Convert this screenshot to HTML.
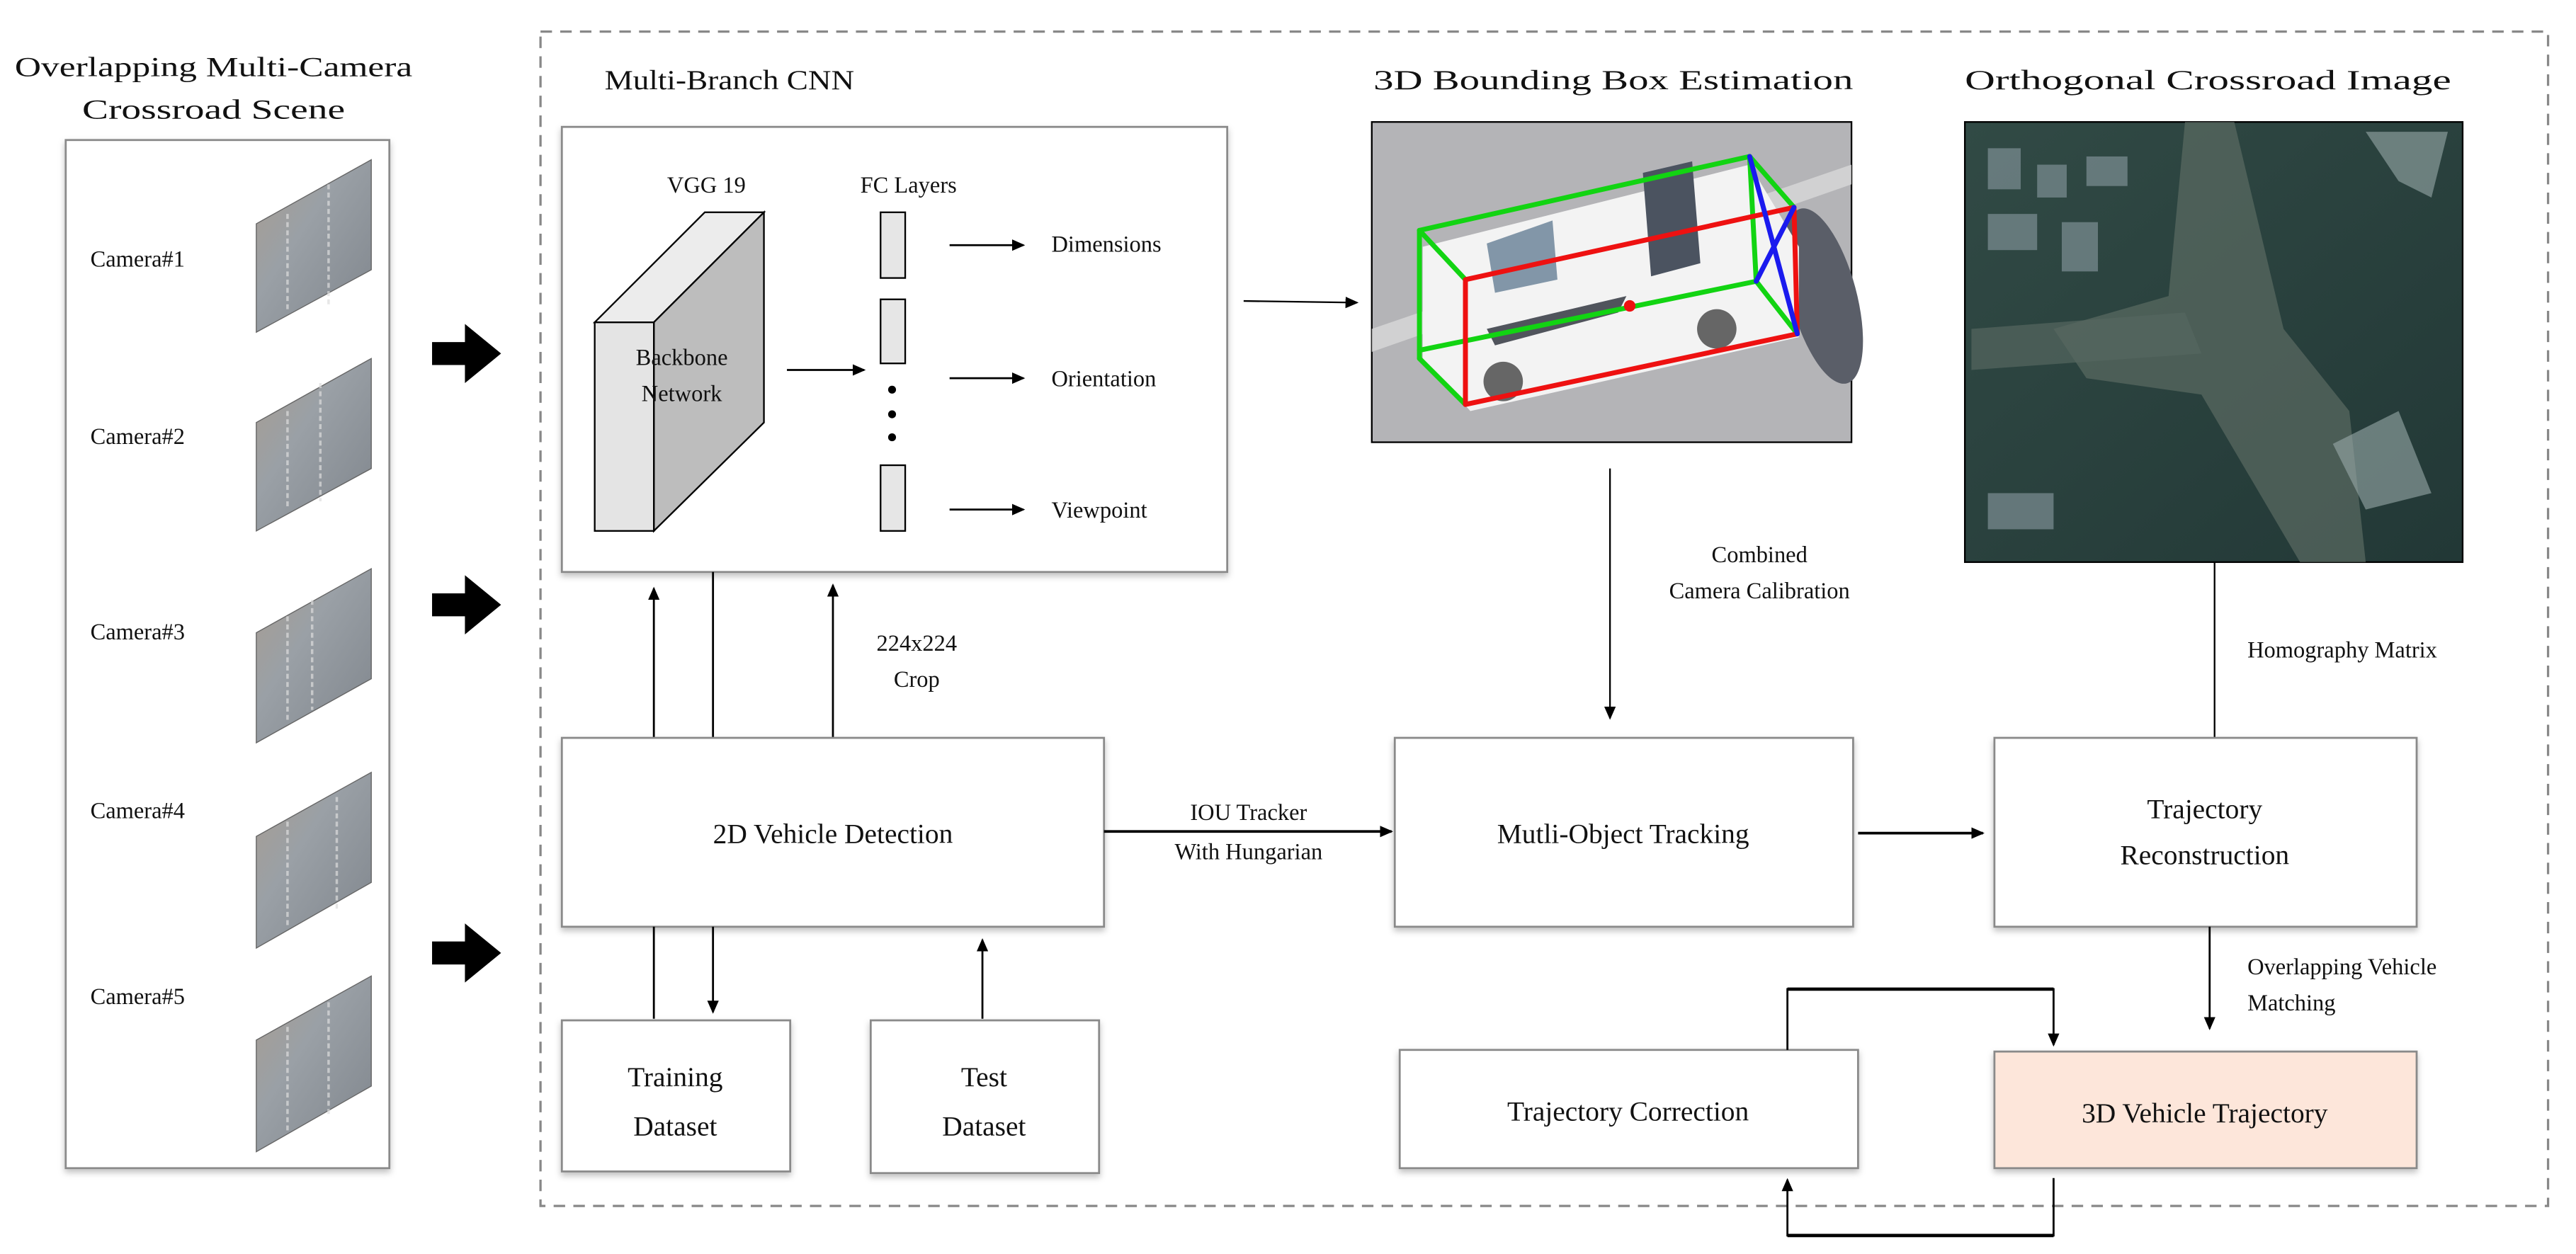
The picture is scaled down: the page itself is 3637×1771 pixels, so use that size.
<!DOCTYPE html>
<html><head><meta charset="utf-8"><style>
html,body{margin:0;padding:0;background:#fff;}
svg{display:block;}
text{font-family:"Liberation Serif",serif;fill:#111;}
</style></head><body>
<svg width="3637" height="1771" viewBox="0 0 1568 763" xmlns="http://www.w3.org/2000/svg">
<defs>
<marker id="ah" markerWidth="8" markerHeight="8" refX="7" refY="4" orient="auto" markerUnits="userSpaceOnUse"><path d="M0,0.5 L8,4 L0,7.5 Z" fill="#000"/></marker>
<filter id="sh" x="-5%" y="-5%" width="110%" height="115%"><feDropShadow dx="0" dy="2" stdDeviation="2" flood-color="#000" flood-opacity="0.25"/></filter>
<linearGradient id="cam" x1="0" y1="0" x2="1" y2="1"><stop offset="0" stop-color="#a99d90"/><stop offset="0.4" stop-color="#9aa0a6"/><stop offset="1" stop-color="#7f858c"/></linearGradient>
<linearGradient id="ort" x1="0" y1="0" x2="1" y2="1"><stop offset="0" stop-color="#314a45"/><stop offset="1" stop-color="#223836"/></linearGradient>
</defs>

<text x="130" y="46" font-size="17" text-anchor="middle" textLength="242" lengthAdjust="spacingAndGlyphs">Overlapping  Multi-Camera</text>
<text x="130" y="72" font-size="17" text-anchor="middle" textLength="160" lengthAdjust="spacingAndGlyphs">Crossroad  Scene</text>
<rect x="40" y="85" width="197" height="626" fill="#fff" stroke="#8a8a8a" stroke-width="1.2" filter="url(#sh)"/>
<g font-size="14">
<text x="55" y="162">Camera#1</text>
<text x="55" y="270">Camera#2</text>
<text x="55" y="389">Camera#3</text>
<text x="55" y="498">Camera#4</text>
<text x="55" y="611">Camera#5</text>
</g>
<g fill="url(#cam)" stroke="#666" stroke-width="0.6">
<polygon points="156,136 226,97 226,164 156,202"/>
<polygon points="156,257 226,218 226,285 156,323"/>
<polygon points="156,385 226,346 226,413 156,452"/>
<polygon points="156,509 226,470 226,537 156,577"/>
<polygon points="156,633 226,594 226,661 156,701"/>
</g>
<g stroke="#ddd" stroke-width="1.5" opacity="0.7" stroke-dasharray="3,2">
<line x1="200" y1="112" x2="200" y2="185"/><line x1="195" y1="233" x2="195" y2="305"/><line x1="190" y1="365" x2="190" y2="432"/><line x1="205" y1="485" x2="205" y2="555"/><line x1="200" y1="610" x2="200" y2="680"/>
<line x1="175" y1="130" x2="175" y2="190"/><line x1="175" y1="250" x2="175" y2="310"/><line x1="175" y1="375" x2="175" y2="440"/><line x1="175" y1="500" x2="175" y2="565"/><line x1="175" y1="625" x2="175" y2="690"/>
</g>
<g fill="#000">
<polygon points="263,208 283,208 283,197 305,215 283,233 283,222 263,222"/>
<polygon points="263,361 283,361 283,350 305,368 283,386 283,375 263,375"/>
<polygon points="263,573 283,573 283,562 305,580 283,598 283,587 263,587"/>
</g>

<rect x="329" y="19" width="1222" height="715" fill="none" stroke="#888" stroke-width="1.4" stroke-dasharray="7,5"/>

<text x="368" y="54" font-size="17" textLength="152" lengthAdjust="spacingAndGlyphs">Multi-Branch  CNN</text>
<rect x="342" y="77" width="405" height="271" fill="#fff" stroke="#8a8a8a" stroke-width="1.2" filter="url(#sh)"/>
<text x="430" y="117" font-size="14" text-anchor="middle">VGG 19</text>
<text x="553" y="117" font-size="14" text-anchor="middle">FC Layers</text>
<polygon points="362,196 429,129 465,129 398,196" fill="#ececec" stroke="#000" stroke-width="1"/>
<polygon points="398,196 465,129 465,257 398,323" fill="#bdbdbd" stroke="#000" stroke-width="1"/>
<rect x="362" y="196" width="36" height="127" fill="#e4e4e4" stroke="#000" stroke-width="1"/>
<text x="415" y="222" font-size="14" text-anchor="middle">Backbone</text>
<text x="415" y="244" font-size="14" text-anchor="middle">Network</text>
<line x1="479" y1="225" x2="526" y2="225" stroke="#000" stroke-width="1.2" marker-end="url(#ah)"/>
<g fill="#e6e6e6" stroke="#000" stroke-width="1">
<rect x="536" y="129" width="15" height="40"/><rect x="536" y="182" width="15" height="39"/><rect x="536" y="283" width="15" height="40"/>
</g>
<circle cx="543" cy="237" r="2.4" fill="#000"/><circle cx="543" cy="252" r="2.4" fill="#000"/><circle cx="543" cy="266" r="2.4" fill="#000"/>
<g stroke="#000" stroke-width="1.2">
<line x1="578" y1="149" x2="623" y2="149" marker-end="url(#ah)"/>
<line x1="578" y1="230" x2="623" y2="230" marker-end="url(#ah)"/>
<line x1="578" y1="310" x2="623" y2="310" marker-end="url(#ah)"/>
</g>
<g font-size="14">
<text x="640" y="153">Dimensions</text>
<text x="640" y="235">Orientation</text>
<text x="640" y="315">Viewpoint</text>
</g>
<line x1="757" y1="183" x2="826" y2="184" stroke="#000" stroke-width="1" marker-end="url(#ah)"/>

<text x="836" y="54" font-size="17" textLength="292" lengthAdjust="spacingAndGlyphs">3D Bounding  Box Estimation</text>
<rect x="835" y="74" width="292" height="195" fill="#b4b4b7" stroke="#000" stroke-width="1"/>
<polygon points="835,200 1127,100 1127,112 835,214" fill="#d8d8d8" opacity="0.8"/>
<ellipse cx="1110" cy="180" rx="20" ry="55" fill="#5a5e68" transform="rotate(-15 1110 180)"/>
<polygon points="866,150 1065,100 1095,150 1095,205 940,240 895,250 866,218" fill="#f3f3f3"/>
<polygon points="905,148 945,134 948,170 910,178" fill="#8296a8"/>
<polygon points="1000,105 1030,98 1035,160 1005,168" fill="#4b5360"/>
<polygon points="905,200 990,180 985,190 910,210" fill="#50545c"/>
<circle cx="915" cy="232" r="12" fill="#666"/><circle cx="1045" cy="200" r="12" fill="#666"/>
<g stroke-width="3" fill="none" stroke-linecap="round">
<g stroke="#12d412">
<line x1="864" y1="140" x2="1065" y2="95"/>
<line x1="1065" y1="95" x2="1069" y2="171"/>
<line x1="864" y1="140" x2="864" y2="218"/>
<line x1="864" y1="213" x2="1069" y2="171"/>
<line x1="864" y1="140" x2="892" y2="170"/>
<line x1="864" y1="218" x2="892" y2="246"/>
<line x1="1069" y1="171" x2="1094" y2="203"/>
<line x1="1065" y1="95" x2="1092" y2="126"/>
</g>
<g stroke="#ee1111">
<line x1="892" y1="170" x2="1092" y2="126"/>
<line x1="892" y1="170" x2="892" y2="246"/>
<line x1="892" y1="246" x2="1094" y2="203"/>
<line x1="1092" y1="126" x2="1094" y2="203"/>
</g>
<g stroke="#1a1aee">
<line x1="1065" y1="95" x2="1094" y2="203"/>
<line x1="1092" y1="126" x2="1069" y2="171"/>
</g>
</g>
<circle cx="992" cy="186" r="3.5" fill="#ee1111"/>

<text x="1196" y="54" font-size="17" textLength="296" lengthAdjust="spacingAndGlyphs">Orthogonal  Crossroad  Image</text>
<rect x="1196" y="74" width="303" height="268" fill="url(#ort)" stroke="#000" stroke-width="1"/>
<polygon points="1330,74 1360,74 1390,200 1430,250 1440,342 1400,342 1340,240 1270,230 1250,200 1320,180" fill="#5b6b62" opacity="0.7"/>
<polygon points="1200,200 1330,190 1340,215 1200,225" fill="#56665f" opacity="0.7"/>
<g fill="#7d8f94" opacity="0.7"><rect x="1210" y="90" width="20" height="25"/><rect x="1240" y="100" width="18" height="20"/><rect x="1210" y="130" width="30" height="22"/><rect x="1255" y="135" width="22" height="30"/><rect x="1270" y="95" width="25" height="18"/><rect x="1210" y="300" width="40" height="22"/></g>
<g fill="#9aa" opacity="0.6"><polygon points="1440,80 1490,80 1480,120 1460,110"/><polygon points="1420,270 1460,250 1480,300 1440,310"/></g>

<line x1="980" y1="285" x2="980" y2="437" stroke="#000" stroke-width="1" marker-end="url(#ah)"/>
<text x="1071" y="342" font-size="14" text-anchor="middle">Combined</text>
<text x="1071" y="364" font-size="14" text-anchor="middle">Camera Calibration</text>
<line x1="1348" y1="342" x2="1348" y2="449" stroke="#000" stroke-width="1"/>
<text x="1368" y="400" font-size="14">Homography Matrix</text>

<line x1="398" y1="449" x2="398" y2="358" stroke="#000" stroke-width="1.2" marker-end="url(#ah)"/>
<line x1="434" y1="348" x2="434" y2="449" stroke="#000" stroke-width="1.2"/>
<line x1="507" y1="449" x2="507" y2="356" stroke="#000" stroke-width="1.2" marker-end="url(#ah)"/>
<text x="558" y="396" font-size="14" text-anchor="middle">224x224</text>
<text x="558" y="418" font-size="14" text-anchor="middle">Crop</text>
<rect x="342" y="449" width="330" height="115" fill="#fff" stroke="#8a8a8a" stroke-width="1.2" filter="url(#sh)"/>
<text x="507" y="513" font-size="17" text-anchor="middle">2D Vehicle  Detection</text>
<line x1="398" y1="564" x2="398" y2="620" stroke="#000" stroke-width="1.2"/>
<line x1="434" y1="564" x2="434" y2="616" stroke="#000" stroke-width="1.2" marker-end="url(#ah)"/>
<line x1="598" y1="620" x2="598" y2="572" stroke="#000" stroke-width="1.2" marker-end="url(#ah)"/>
<rect x="342" y="621" width="139" height="92" fill="#fff" stroke="#8a8a8a" stroke-width="1.2" filter="url(#sh)"/>
<text x="411" y="661" font-size="17" text-anchor="middle">Training</text>
<text x="411" y="691" font-size="17" text-anchor="middle">Dataset</text>
<rect x="530" y="621" width="139" height="93" fill="#fff" stroke="#8a8a8a" stroke-width="1.2" filter="url(#sh)"/>
<text x="599" y="661" font-size="17" text-anchor="middle">Test</text>
<text x="599" y="691" font-size="17" text-anchor="middle">Dataset</text>

<line x1="672" y1="506" x2="847" y2="506" stroke="#000" stroke-width="1.6" marker-end="url(#ah)"/>
<text x="760" y="499" font-size="14" text-anchor="middle">IOU Tracker</text>
<text x="760" y="523" font-size="14" text-anchor="middle">With Hungarian</text>

<rect x="849" y="449" width="279" height="115" fill="#fff" stroke="#8a8a8a" stroke-width="1.2" filter="url(#sh)"/>
<text x="988" y="513" font-size="17" text-anchor="middle">Mutli-Object  Tracking</text>
<line x1="1131" y1="507" x2="1207" y2="507" stroke="#000" stroke-width="1.6" marker-end="url(#ah)"/>
<rect x="1214" y="449" width="257" height="115" fill="#fff" stroke="#8a8a8a" stroke-width="1.2" filter="url(#sh)"/>
<text x="1342" y="498" font-size="17" text-anchor="middle">Trajectory</text>
<text x="1342" y="526" font-size="17" text-anchor="middle">Reconstruction</text>

<line x1="1345" y1="564" x2="1345" y2="626" stroke="#000" stroke-width="1.2" marker-end="url(#ah)"/>
<text x="1368" y="593" font-size="14">Overlapping Vehicle</text>
<text x="1368" y="615" font-size="14">Matching</text>

<rect x="852" y="639" width="279" height="72" fill="#fff" stroke="#8a8a8a" stroke-width="1.2" filter="url(#sh)"/>
<text x="991" y="682" font-size="17" text-anchor="middle">Trajectory  Correction</text>
<rect x="1214" y="640" width="257" height="71" fill="#fde6da" stroke="#8a8a8a" stroke-width="1.2" filter="url(#sh)"/>
<text x="1342" y="683" font-size="17" text-anchor="middle">3D Vehicle  Trajectory</text>

<polyline points="1088,639 1088,602 1250,602 1250,636" fill="none" stroke="#000" stroke-width="1.2" marker-end="url(#ah)"/>
<line x1="1088" y1="602" x2="1250" y2="602" stroke="#000" stroke-width="2"/>
<polyline points="1250,717 1250,752 1088,752 1088,718" fill="none" stroke="#000" stroke-width="1.2" marker-end="url(#ah)"/>
<line x1="1088" y1="752" x2="1250" y2="752" stroke="#000" stroke-width="2"/>
</svg>
</body></html>
